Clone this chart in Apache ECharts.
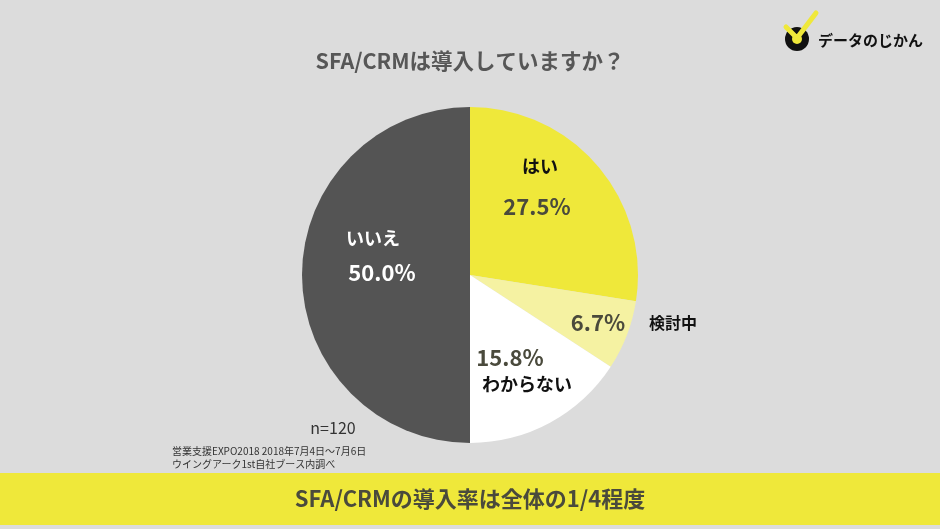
<!DOCTYPE html>
<html><head><meta charset="utf-8">
<script src="https://cdn.jsdelivr.net/npm/echarts@6/dist/echarts.min.js"></script>
<style>html,body{margin:0;padding:0;background:#dcdcdc}#c{width:940px;height:529px}</style>
</head><body><div id="c"></div>
<script>
var categories = ['はい', '検討中', 'わからない', 'いいえ'];
var values = [27.5, 6.7, 15.8, 50.0];
var colors = ['#efe83a', '#f5f2a2', '#ffffff', '#545454'];
var titleText = 'SFA/CRMは導入していますか？';
var footerText = 'SFA/CRMの導入率は全体の1/4程度';
var sampleText = 'n=120';
var sourceLines = ['営業支援EXPO2018 2018年7月4日～7月6日', 'ウイングアーク1st自社ブース内調べ'];

var F = '"Noto Sans CJK JP", "Noto Sans", sans-serif';
function pct(v){ return v.toFixed(1) + '%'; }
function txt(x, y, s, size, weight, fill, align){
  return { type: 'text', z: 100, x: x, y: y, style: { text: s, fontFamily: F, fontSize: size, fontWeight: weight, fill: fill, align: align || 'center', verticalAlign: 'middle' } };
}

var chart = echarts.init(document.getElementById('c'));
chart.setOption({
  backgroundColor: '#dcdcdc',
  animation: false,
  title: {
    text: titleText, left: 'center', top: 45,
    textStyle: { fontFamily: F, fontSize: 21.5, fontWeight: 'bold', color: '#575757' }
  },
  series: [{
    type: 'pie',
    center: [470, 275],
    radius: 168,
    startAngle: 90,
    clockwise: true,
    label: { show: false },
    labelLine: { show: false },
    itemStyle: { borderWidth: 0 },
    data: categories.map(function(c, i){ return { name: c, value: values[i], itemStyle: { color: colors[i] } }; })
  }],
  graphic: [
    { type: 'rect', z: 50, shape: { x: 0, y: 473, width: 940, height: 52 }, style: { fill: '#efe83a' } },
    txt(470, 499, footerText, 22, 'bold', '#4a4a3c'),
    txt(540, 166, categories[0], 18, 'bold', '#111'),
    txt(537, 207, pct(values[0]), 22, 'bold', '#4a4a3c'),
    txt(598, 323, pct(values[1]), 22, 'bold', '#4a4a3c'),
    txt(673, 323, categories[1], 16, 'bold', '#111'),
    txt(510, 358, pct(values[2]), 22, 'bold', '#4a4a3c'),
    txt(527, 384, categories[2], 18, 'bold', '#111'),
    txt(373, 238, categories[3], 18, 'bold', '#ffffff'),
    txt(382, 273, pct(values[3]), 22, 'bold', '#ffffff'),
    txt(333, 428, sampleText, 16, 'normal', '#333'),
    txt(172, 451, sourceLines[0], 10, 'normal', '#333', 'left'),
    txt(172, 464, sourceLines[1], 10, 'normal', '#333', 'left'),
    // logo
    { type: 'circle', z: 100, shape: { cx: 797, cy: 39, r: 12 }, style: { fill: '#111' } },
    { type: 'circle', z: 100, shape: { cx: 797, cy: 39, r: 5 }, style: { fill: '#efe83a' } },
    { type: 'polyline', z: 101, shape: { points: [[786, 27], [797, 38], [816, 13]] }, style: { stroke: '#efe83a', lineWidth: 5, fill: null, lineCap: 'round', lineJoin: 'round' } },
    txt(818, 40, 'データのじかん', 15, 'bold', '#111', 'left')
  ]
});
</script></body></html>
